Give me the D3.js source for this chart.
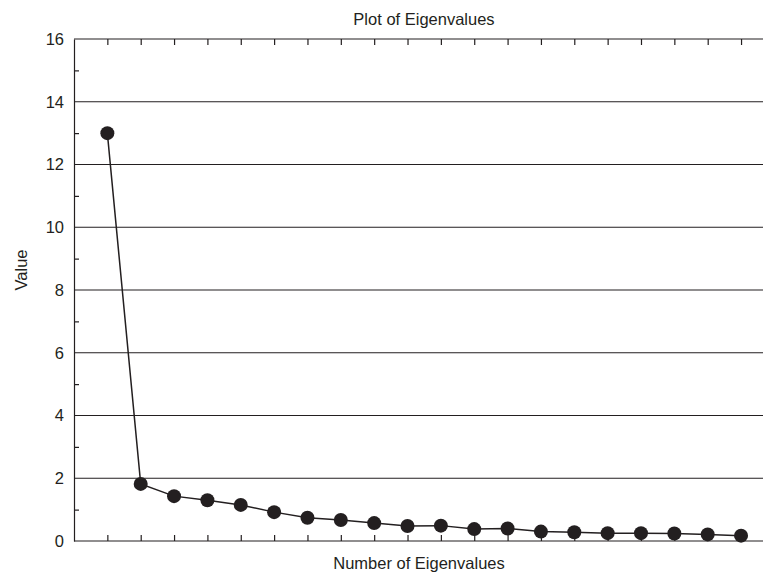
<!DOCTYPE html>
<html>
<head>
<meta charset="utf-8">
<script src="https://cdn.jsdelivr.net/npm/d3@7"></script>
<style>
  body { margin: 0; background: #fff; }
  text { font-family: "Liberation Sans", Arial, sans-serif; fill: #231f20; }
</style>
</head>
<body>
<svg id="chart" width="763" height="572"></svg>
<script>
// eigenvalue number and value
var eigenNumbers = d3.range(1, 21)
var eigenValues = [13.0, 1.82, 1.43, 1.30, 1.15, 0.92, 0.74, 0.67, 0.57, 0.48,
                   0.49, 0.38, 0.40, 0.30, 0.28, 0.25, 0.25, 0.24, 0.21, 0.17]
var yMajorTicks = [0, 2, 4, 6, 8, 10, 12, 14, 16]
var yMinorTicks = [1, 3, 5, 7, 9, 11, 13, 15]

var svg = d3.select("#chart")
var ink = "#231f20"

// note: "top" is taken by window.top, so plot edges get their own names
var plotLeft = 74, plotRight = 774.4, plotTop = 39, plotBottom = 541

var x = d3.scaleLinear().domain([0, 21]).range([plotLeft, plotRight])
var y = d3.scaleLinear().domain([0, 16]).range([plotBottom, plotTop])

// gridlines at the labelled values
svg.append("g")
    .selectAll("line")
    .data(yMajorTicks)
    .join("line")
    .attr("x1", plotLeft).attr("x2", plotRight)
    .attr("y1", d => y(d)).attr("y2", d => y(d))
    .attr("stroke", ink).attr("stroke-width", 1.2)

// left axis, labels only on the even values
var yAxis = d3.axisLeft(y).tickValues(yMajorTicks).tickSize(0).tickPadding(10)
svg.append("g")
    .attr("transform", `translate(${plotLeft},0)`)
    .call(yAxis)
    .call(g => g.select(".domain").attr("stroke", ink).attr("stroke-width", 1.2))
    .call(g => g.selectAll(".tick text").attr("font-size", 16.5).attr("fill", ink)
        .attr("font-family", "Liberation Sans, Arial, sans-serif"))

svg.append("g")
    .attr("transform", `translate(${plotLeft},0)`)
    .call(d3.axisRight(y).tickValues(yMinorTicks).tickSize(5).tickFormat(""))
    .call(g => g.select(".domain").remove())
    .call(g => g.selectAll(".tick line").attr("stroke", ink).attr("stroke-width", 1.2))

// bottom and top tick rows, pointing inward
svg.append("g")
    .attr("transform", `translate(0,${plotBottom})`)
    .call(d3.axisTop(x).tickValues(eigenNumbers).tickSize(6).tickFormat(""))
    .call(g => g.select(".domain").remove())
    .call(g => g.selectAll(".tick line").attr("stroke", ink).attr("stroke-width", 1.2))

svg.append("g")
    .attr("transform", `translate(0,${plotTop})`)
    .call(d3.axisBottom(x).tickValues(eigenNumbers).tickSize(6).tickFormat(""))
    .call(g => g.select(".domain").remove())
    .call(g => g.selectAll(".tick line").attr("stroke", ink).attr("stroke-width", 1.2))

// the scree line and its points
var pts = eigenNumbers.map((n, i) => [n, eigenValues[i]])

svg.append("path")
    .datum(pts)
    .attr("fill", "none")
    .attr("stroke", ink)
    .attr("stroke-width", 1.5)
    .attr("d", d3.line().x(d => x(d[0])).y(d => y(d[1])))

svg.append("g")
    .selectAll("circle")
    .data(pts)
    .join("circle")
    .attr("cx", d => x(d[0]))
    .attr("cy", d => y(d[1]))
    .attr("r", 7)
    .attr("fill", ink)

// titles
svg.append("text")
    .attr("x", 424).attr("y", 25)
    .attr("text-anchor", "middle")
    .attr("font-size", 16.5)
    .text("Plot of Eigenvalues")

svg.append("text")
    .attr("x", 419).attr("y", 569)
    .attr("text-anchor", "middle")
    .attr("font-size", 16.5)
    .text("Number of Eigenvalues")

svg.append("text")
    .attr("transform", "translate(27,270) rotate(-90)")
    .attr("text-anchor", "middle")
    .attr("font-size", 16.5)
    .text("Value")
</script>
</body>
</html>
